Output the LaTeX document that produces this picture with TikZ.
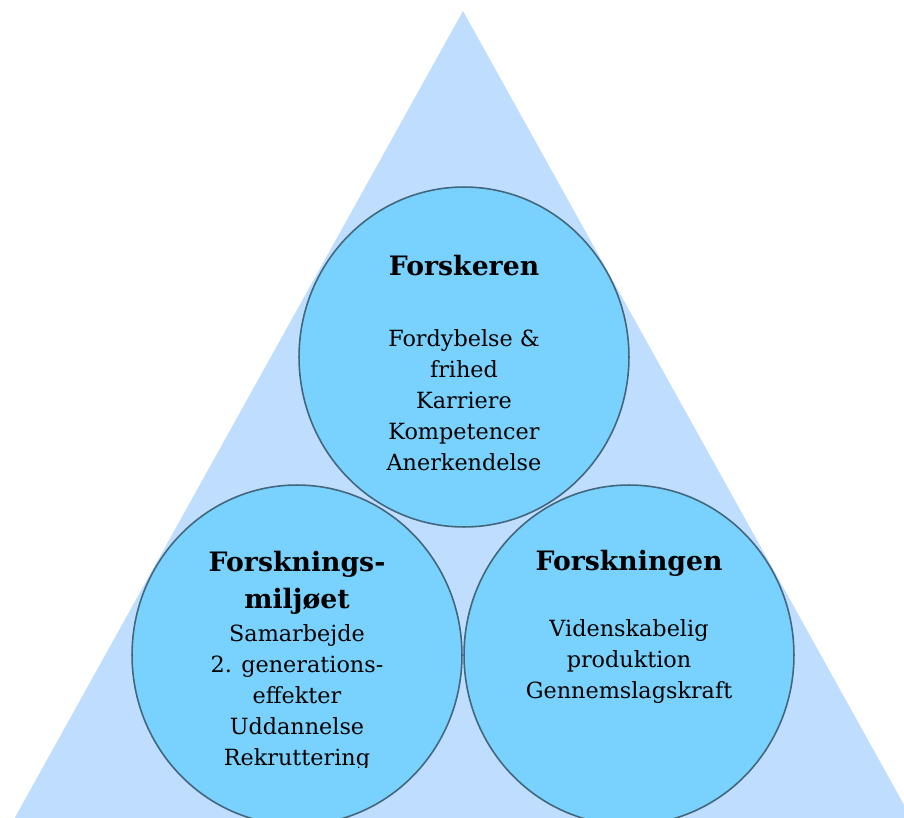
\documentclass[tikz,border=0pt]{standalone}
\usepackage{fontspec}
\setmainfont{DejaVu Serif}
\usetikzlibrary{calc,positioning,shapes.geometric}

\definecolor{trifill}{RGB}{190,221,255}
\definecolor{circfill}{RGB}{120,210,253}
\definecolor{circline}{RGB}{66,102,124}

\begin{document}
\begin{tikzpicture}[
    x=0.02cm,y=-0.02cm,
    circ/.style={ellipse,draw=circline,fill=circfill,line width=0.9pt,minimum width=6.6cm,minimum height=6.8cm,inner sep=0pt},
    title/.style={anchor=base,align=center,inner sep=0pt,font=\fontsize{15.2}{20.5}\selectfont\bfseries},
    items/.style={anchor=base,align=center,inner sep=0pt,font=\fontsize{12.7}{17.6}\selectfont},
  ]

  \useasboundingbox (0,0) rectangle (904,818);
  \clip (0,0) rectangle (904,818);

  % triangle
  \coordinate (apex) at (463,11);
  \fill[trifill] (apex) -- (8,830) -- (918,830) -- cycle;

  % circles
  \node (top) at (464,357) [circ] {};
  \node (left) at (297,655) [circ] {};
  \node (right) at (629,655) [circ] {};

  % top circle (base = last line)
  \node (top-t) at ($(top.center) + (0,-82)$) [title] {Forskeren};
  \node (top-i) at ($(top.center) + (0,113)$) [items] {Fordybelse \&\\frihed\\Karriere\\Kompetencer\\Anerkendelse};

  % left circle
  \node (left-t) at ($(left.center) + (0,-47)$) [title] {Forsknings-\\miljøet};
  \begin{scope}
    \clip (0,0) rectangle (904,767);
    \node (left-i) at ($(left.center) + (0,110)$) [items] {Samarbejde\\2. generations-\\effekter\\Uddannelse\\Rekruttering};
  \end{scope}

  % right circle
  \node (right-t) at ($(right.center) + (0,-85)$) [title] {Forskningen};
  \node (right-i) at ($(right.center) + (0,43)$) [items] {Videnskabelig\\produktion\\Gennemslagskraft};

\end{tikzpicture}
\end{document}
